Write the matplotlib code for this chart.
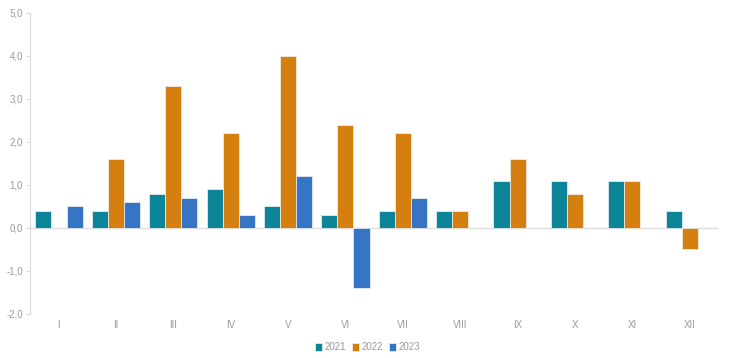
import numpy as np
import matplotlib.pyplot as plt

plt.rcParams['font.family'] = ['Liberation Sans', 'DejaVu Sans']

months = ['I', 'II', 'III', 'IV', 'V', 'VI', 'VII', 'VIII', 'IX', 'X', 'XI', 'XII']
y2021 = [0.4, 0.4, 0.8, 0.9, 0.5, 0.3, 0.4, 0.4, 1.1, 1.1, 1.1, 0.4]
y2022 = [np.nan, 1.6, 3.3, 2.2, 4.0, 2.4, 2.2, 0.4, 1.6, 0.8, 1.1, -0.5]
y2023 = [0.5, 0.6, 0.7, 0.3, 1.2, -1.4, 0.7, np.nan, np.nan, np.nan, np.nan, np.nan]

series = [('2021', y2021, '#0d8598'), ('2022', y2022, '#d47f10'), ('2023', y2023, '#3575c4')]

fig = plt.figure(figsize=(7.3, 3.58), dpi=100)
ax = fig.add_axes([0.041, 0.123, 0.943, 0.841])

x = np.arange(len(months))
w = 0.28
for i, (name, vals, col) in enumerate(series):
    ax.bar(x + (i - 1) * w, vals, w, color=col, label=name,
           edgecolor='#f4f4f4', linewidth=0.5)

ax.set_xlim(-0.5, len(months) - 0.5)
ax.set_ylim(-2, 5)
ax.set_yticks(np.arange(-2, 6, 1))
ax.set_yticklabels([f'{v:.1f}'.replace('.', ',') for v in np.arange(-2, 6, 1)])
ax.set_xticks(x)
ax.set_xticklabels(months)
ax.axhline(0, color='#dddddd', linewidth=1, zorder=0)

for s in ['top', 'right', 'bottom']:
    ax.spines[s].set_visible(False)
ax.spines['left'].set_color('#d9d9d9')
ax.tick_params(axis='y', colors='#d9d9d9', labelcolor='#999999', labelsize=7, length=3, pad=2)
ax.tick_params(axis='x', length=0, labelcolor='#999999', labelsize=7, pad=4)

ax.legend(loc='upper center', bbox_to_anchor=(0.49, -0.065), ncol=3, frameon=False,
          fontsize=7, labelcolor='#999999', handlelength=0.8, handleheight=0.8,
          handletextpad=0.2, columnspacing=0.6)

fig.savefig('out.png', dpi=100)
